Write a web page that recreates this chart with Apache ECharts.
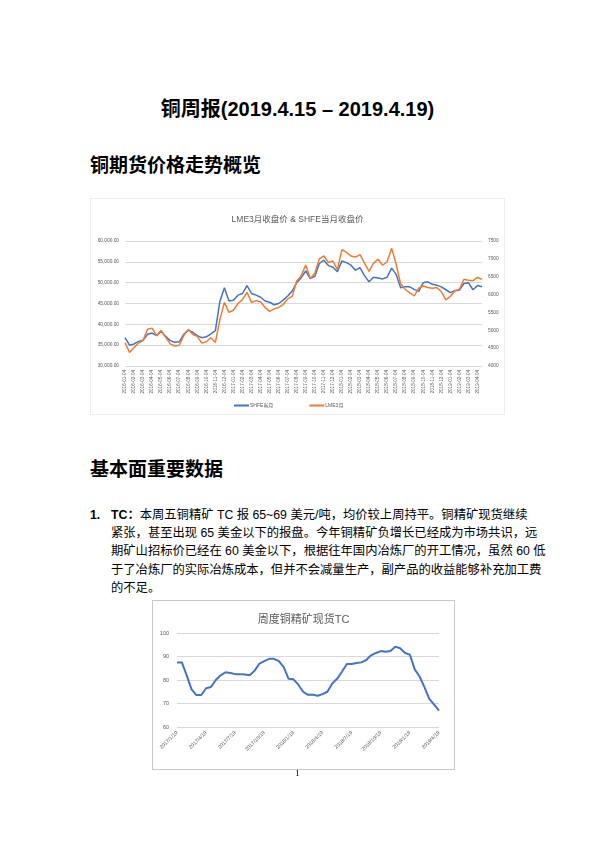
<!DOCTYPE html>
<html>
<head>
<meta charset="utf-8">
<script src="https://cdn.jsdelivr.net/npm/echarts@6/dist/echarts.min.js"></script>
<style>
  html, body { margin: 0; padding: 0; background: #fff; }
  body { width: 595px; height: 842px; position: relative; overflow: hidden;
         font-family: "Liberation Sans", "Noto Sans CJK SC", sans-serif; color: #000; }
  .abs { position: absolute; }
  #title { left: 0; width: 595px; top: 93px; text-align: center; font-size: 20px; font-weight: bold; }
  .h2 { left: 90px; font-size: 19px; font-weight: bold; }
  #para { left: 90px; top: 506px; width: 415px; font-size: 12.3px; line-height: 18.2px; }
  #para .num { position: absolute; left: 0; top: 0; font-weight: bold; }
  #para .ln { margin-left: 21px; display: block; text-align: justify; text-align-last: justify; white-space: nowrap; }
  #para .ln.last { text-align-last: left; }
  #chart-price { left: 90px; top: 198px; width: 415px; height: 217px; border: 1px solid #ececec; box-sizing: border-box; }
  #chart-tc { left: 152px; top: 600px; width: 303px; height: 170px; border: 1px solid #c8c8c8; box-sizing: border-box; }
  #page { left: 0; width: 595px; top: 768px; text-align: center; font-size: 9px; font-family: "Liberation Serif", serif; }
</style>
</head>
<body>
<div id="title" class="abs">铜周报(2019.4.15 – 2019.4.19)</div>
<div class="abs h2" style="top:150px">铜期货价格走势概览</div>
<div id="chart-price" class="abs"></div>
<div class="abs h2" style="top:454px">基本面重要数据</div>
<div id="para" class="abs">
  <span class="num">1.</span>
  <span class="ln"><b>TC：</b>本周五铜精矿 TC 报 65~69 美元/吨，均价较上周持平。铜精矿现货继续</span>
  <span class="ln">紧张，甚至出现 65 美金以下的报盘。今年铜精矿负增长已经成为市场共识，远</span>
  <span class="ln">期矿山招标价已经在 60 美金以下，根据往年国内冶炼厂的开工情况，虽然 60 低</span>
  <span class="ln">于了冶炼厂的实际冶炼成本，但并不会减量生产，副产品的收益能够补充加工费</span>
  <span class="ln last">的不足。</span>
</div>
<div id="chart-tc" class="abs"></div>
<div id="page" class="abs">1</div>

<script>
const $ = (id) => document.getElementById(id);

// LME / SHFE copper closes, two readings per month
const priceDates = [
  "2016-01-04", "2016-01-18", "2016-02-04", "2016-02-18", "2016-03-04", "2016-03-18", "2016-04-04", "2016-04-18",
  "2016-05-04", "2016-05-18", "2016-06-04", "2016-06-18", "2016-07-04", "2016-07-18", "2016-08-04", "2016-08-18",
  "2016-09-04", "2016-09-18", "2016-10-04", "2016-10-18", "2016-11-04", "2016-11-18", "2016-12-04", "2016-12-18",
  "2017-01-04", "2017-01-18", "2017-02-04", "2017-02-18", "2017-03-04", "2017-03-18", "2017-04-04", "2017-04-18",
  "2017-05-04", "2017-05-18", "2017-06-04", "2017-06-18", "2017-07-04", "2017-07-18", "2017-08-04", "2017-08-18",
  "2017-09-04", "2017-09-18", "2017-10-04", "2017-10-18", "2017-11-04", "2017-11-18", "2017-12-04", "2017-12-18",
  "2018-01-04", "2018-01-18", "2018-02-04", "2018-02-18", "2018-03-04", "2018-03-18", "2018-04-04", "2018-04-18",
  "2018-05-04", "2018-05-18", "2018-06-04", "2018-06-18", "2018-07-04", "2018-07-18", "2018-08-04", "2018-08-18",
  "2018-09-04", "2018-09-18", "2018-10-04", "2018-10-18", "2018-11-04", "2018-11-18", "2018-12-04", "2018-12-18",
  "2019-01-04", "2019-01-18", "2019-02-04", "2019-02-18", "2019-03-04", "2019-03-18", "2019-04-04", "2019-04-18"
];
const shfeClose = [
  36800, 35000, 35300, 35900, 36200, 37600, 37900, 37300, 38300, 37100, 36100, 35700, 35800, 37600, 38600, 38100,
  37300, 36800, 37000, 37700, 38500, 45500, 48800, 45600, 45800, 47000, 47400, 49300, 47400, 47000, 46500, 45600,
  45300, 44700, 45000, 45800, 46800, 48000, 50000, 51200, 52800, 51000, 51500, 54600, 55400, 54100, 53700, 52600,
  55200, 54800, 54200, 53000, 53600, 51700, 50200, 51300, 51100, 50900, 51300, 53500, 52000, 48800, 49000, 49000,
  48400, 47900, 50000, 50200, 49600, 49400, 49000, 48300, 47600, 48100, 48200, 49800, 50000, 48300, 49300, 49000
];
const lmeClose = [
  4650, 4380, 4520, 4640, 4720, 5030, 5060, 4850, 5000, 4800, 4620, 4560, 4580, 4850, 5020, 4880,
  4830, 4640, 4680, 4790, 4660, 5300, 5780, 5500, 5560, 5750, 5860, 6060, 5780, 5830, 5800, 5640,
  5530, 5600, 5640, 5720, 5880, 5950, 6380, 6530, 6830, 6450, 6600, 7000, 7080, 6900, 6940, 6700,
  7260, 7180, 7080, 7050, 7120, 6880, 6650, 6880, 6990, 6820, 6920, 7300, 6850, 6300, 6150, 6050,
  5960, 6180, 6240, 6200, 6180, 6200, 6080, 5850, 5950, 6100, 6150, 6430, 6400, 6390, 6480, 6430
];

// weekly spot TC for copper concentrate, two readings per month
const tcDates = [
  "2017/1/19", "2017/2/4", "2017/2/19", "2017/3/4", "2017/3/19", "2017/4/4",
  "2017/4/19", "2017/5/4", "2017/5/19", "2017/6/4", "2017/6/19", "2017/7/4",
  "2017/7/19", "2017/8/4", "2017/8/19", "2017/9/4", "2017/9/19", "2017/10/4",
  "2017/10/19", "2017/11/4", "2017/11/19", "2017/12/4", "2017/12/19", "2018/1/4",
  "2018/1/19", "2018/2/4", "2018/2/19", "2018/3/4", "2018/3/19", "2018/4/4",
  "2018/4/19", "2018/5/4", "2018/5/19", "2018/6/4", "2018/6/19", "2018/7/4",
  "2018/7/19", "2018/8/4", "2018/8/19", "2018/9/4", "2018/9/19", "2018/10/4",
  "2018/10/19", "2018/11/4", "2018/11/19", "2018/12/4", "2018/12/19", "2019/1/4",
  "2019/1/19", "2019/2/4", "2019/2/19", "2019/3/4", "2019/3/19", "2019/4/4",
  "2019/4/19"
];
const tcValues = [
  87.5, 87.5, 82, 76, 73.6, 73.6,
  76.5, 77, 80, 82, 83.3, 83,
  82.5, 82.5, 82.3, 82, 84, 87,
  88, 89, 89, 88, 85.5, 80.5,
  80.3, 78, 75, 73.7, 73.7, 73.3,
  74, 75, 78.5, 80.5, 83.5, 86.8,
  86.8, 87.2, 87.5, 88.5, 90.5, 91.5,
  92.3, 92, 92.3, 94.2, 93.5, 91.5,
  90.8, 84.5, 81.5, 77, 72, 69.5,
  67
];

const fontCN = "Liberation Sans, Noto Sans CJK SC, sans-serif";
const gray = "#595959";
const gridLine = "#d9d9d9";
const blue = "#4472c4";
const orange = "#ed7d31";

const priceChart = echarts.init($("chart-price"), null, { renderer: "canvas" });
const tcChart = echarts.init($("chart-tc"), null, { renderer: "canvas" });

priceChart.setOption({
  animation: false,
  textStyle: { fontFamily: fontCN },
  title: {
    text: "LME3月收盘价 & SHFE当月收盘价",
    left: "center",
    top: 11,
    textStyle: { fontSize: 8.5, fontWeight: "normal", color: gray, fontFamily: fontCN }
  },
  legend: {
    bottom: 1,
    left: 138,
    itemWidth: 15,
    itemHeight: 2,
    itemGap: 36,
    icon: "rect",
    textStyle: { fontSize: 5, color: gray, padding: [0, 0, 0, -4] },
    data: ["SHFE当月", "LME3月"]
  },
  grid: { left: 34, right: 22, top: 42, bottom: 48 },
  xAxis: {
    type: "category",
    data: priceDates,
    boundaryGap: false,
    axisLine: { show: false },
    axisTick: { show: false },
    axisLabel: { interval: 1, rotate: 90, fontSize: 4.6, color: gray, margin: 4 }
  },
  yAxis: [{
    type: "value",
    min: 30000,
    max: 60000,
    interval: 5000,
    axisLine: { show: false },
    axisTick: { show: false },
    splitLine: { lineStyle: { color: gridLine, width: 1 } },
    axisLabel: {
      fontSize: 4.8,
      color: gray,
      margin: 6,
      formatter: (v) => v.toLocaleString("en-US", { minimumFractionDigits: 2 })
    }
  }, {
    type: "value",
    min: 4000,
    max: 7500,
    interval: 500,
    axisLine: { show: false },
    axisTick: { show: false },
    splitLine: { show: false },
    axisLabel: { fontSize: 4.8, color: gray, margin: 6, formatter: (v) => String(v) }
  }],
  series: [{
    name: "SHFE当月",
    type: "line",
    data: shfeClose,
    yAxisIndex: 0,
    symbol: "none",
    lineStyle: { width: 1.5, color: blue },
    itemStyle: { color: blue }
  }, {
    name: "LME3月",
    type: "line",
    data: lmeClose,
    yAxisIndex: 1,
    symbol: "none",
    lineStyle: { width: 1.5, color: orange },
    itemStyle: { color: orange }
  }]
});

tcChart.setOption({
  animation: false,
  textStyle: { fontFamily: fontCN },
  title: {
    text: "周度铜精矿现货TC",
    left: "center",
    top: 8,
    textStyle: { fontSize: 11, fontWeight: "normal", color: gray, fontFamily: fontCN }
  },
  grid: { left: 24, right: 15, top: 32, bottom: 42 },
  xAxis: {
    type: "category",
    data: tcDates,
    boundaryGap: false,
    axisLine: { show: false },
    axisTick: { show: false },
    axisLabel: { interval: 5, rotate: 45, fontSize: 5.2, color: gray, margin: 5 }
  },
  yAxis: {
    type: "value",
    min: 60,
    max: 100,
    interval: 10,
    axisLine: { show: false },
    axisTick: { show: false },
    splitLine: { lineStyle: { color: gridLine } },
    axisLabel: { fontSize: 5.5, color: gray, margin: 8 }
  },
  series: [{
    name: "TC",
    type: "line",
    data: tcValues,
    symbol: "none",
    lineStyle: { width: 2, color: blue }
  }]
});
</script>
</body>
</html>
